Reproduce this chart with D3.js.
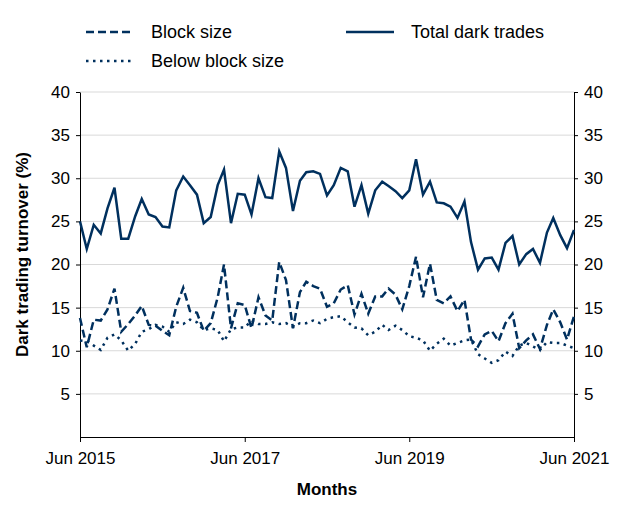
<!DOCTYPE html>
<html><head><meta charset="utf-8">
<script src="https://cdn.jsdelivr.net/npm/d3@7"></script>
<style>body{margin:0;background:#fff}text{font-family:"Liberation Sans",Arial,sans-serif}</style>
</head><body><div id="chart"></div>
<script>
var total = [25,21.8,24.6,23.6,26.5,28.9,23,23,25.6,27.6,25.8,25.5,24.4,24.3,28.6,30.2,29.2,28.1,24.8,25.5,29.2,31,24.8,28.2,28.1,25.8,30,27.8,27.7,33.1,31.2,26.2,29.7,30.7,30.8,30.5,28,29.2,31.2,30.8,26.7,29.2,25.9,28.6,29.6,29.1,28.5,27.7,28.6,32.2,28.1,29.6,27.2,27.1,26.7,25.4,27.3,22.6,19.4,20.7,20.8,19.4,22.5,23.3,20,21.2,21.8,20.2,23.7,25.4,23.4,21.9,24]
var block = [13.8,10.4,13.6,13.5,14.8,17.2,12.2,13.1,14.1,15.2,13,12.9,12.3,11.8,15.1,17.3,14.6,14.4,12.3,13.2,16.2,20,12.6,15.5,15.3,12.6,16.2,14.1,13.5,20.3,18.2,12.6,16.8,18,17.5,17.2,15.1,15.5,17.1,17.6,14.2,16.6,14.3,16.3,16.3,17.2,16.5,14.8,17.5,20.9,16.2,20.1,15.9,15.5,16.3,14.6,15.9,11.3,10.5,11.9,12.3,11.1,13.2,14.3,10.3,11.2,11.9,10.2,13,14.8,13.3,11.3,14]
var below = [11.2,11.1,10.6,10.1,11.5,11.9,11.2,10,10.8,12.2,12.5,13,12.8,12.2,13.3,13.1,13.6,13.3,12.4,12.6,12.4,11.1,12.5,12.7,12.7,13.5,13.1,13.1,13.3,13.1,13.2,12.8,13.2,13.2,13.5,13.2,13.7,13.9,14,13.3,12.7,12.6,11.8,12.2,13,12.4,12.9,12.4,11.7,11.5,11.2,10,10.8,11.4,10.6,10.9,11.2,11.3,9.6,9.1,8.6,8.9,9.9,9.4,10.6,10.9,10.5,10.1,11,10.9,10.9,10.6,10.3]
var yTicks = [5,10,15,20,25,30,35,40]
var xTickLabels = ["Jun 2015","Jun 2017","Jun 2019","Jun 2021"]

var W = 632, H = 513, color = "#00305e"
var m = {left: 80, right: 58, top: 92, bottom: 76}
var svg = d3.select("#chart").append("svg").attr("width", W).attr("height", H)
var months = total.map(function (d, i) { return new Date(2015, 5 + i, 1) })
var x = d3.scaleTime().domain([months[0], months[months.length - 1]]).range([m.left, W - m.right])
var y = d3.scaleLinear().domain([0, 40]).range([H - m.bottom, m.top])

// grid
svg.append("g").selectAll("line").data(yTicks).enter().append("line")
  .attr("x1", m.left).attr("x2", W - m.right)
  .attr("y1", function (d) { return y(d) }).attr("y2", function (d) { return y(d) })
  .attr("stroke", "#d9d9d9").attr("stroke-width", 1)

function styleAxis(g) {
  g.selectAll("text").attr("font-size", 17).attr("fill", "#000")
  g.selectAll("line").attr("stroke", "#000")
  g.select(".domain").attr("stroke", "#000")
}
svg.append("g").attr("transform", "translate(" + m.left + ",0)")
  .call(d3.axisLeft(y).tickValues(yTicks).tickSize(4).tickPadding(6).tickSizeOuter(0)).call(styleAxis)
svg.append("g").attr("transform", "translate(" + (W - m.right) + ",0)")
  .call(d3.axisRight(y).tickValues(yTicks).tickSize(4).tickPadding(6).tickSizeOuter(0)).call(styleAxis)
var xTicks = [0, 24, 48, 72].map(function (i) { return months[i] })
svg.append("g").attr("transform", "translate(0," + (H - m.bottom) + ")")
  .call(d3.axisBottom(x).tickValues(xTicks).tickSize(5).tickPadding(10).tickSizeOuter(0)
    .tickFormat(function (d, i) { return xTickLabels[i] })).call(styleAxis)

var line = d3.line().x(function (d, i) { return x(months[i]) }).y(function (d) { return y(d) })
var series = [
  {name: "Block size", data: block, dash: "8,4"},
  {name: "Below block size", data: below, dash: "2.5,4.5"},
  {name: "Total dark trades", data: total, dash: null}
]
series.forEach(function (s) {
  svg.append("path").datum(s.data).attr("d", line)
    .attr("fill", "none").attr("stroke", color).attr("stroke-width", 2.5)
    .attr("stroke-dasharray", s.dash)
})

// legend
var legPos = [[86, 32], [86, 61], [346, 32]]
series.forEach(function (s, i) {
  var p = legPos[i]
  svg.append("line").attr("x1", p[0]).attr("x2", p[0] + 48).attr("y1", p[1]).attr("y2", p[1])
    .attr("stroke", color).attr("stroke-width", 2.5).attr("stroke-dasharray", s.dash)
  svg.append("text").attr("x", p[0] + 65).attr("y", p[1] + 6).attr("font-size", 18).text(s.name)
})

svg.append("text").attr("x", (m.left + W - m.right) / 2).attr("y", 495).attr("text-anchor", "middle")
  .attr("font-size", 17).attr("font-weight", "bold").text("Months")
svg.append("text").attr("transform", "translate(28," + (y(20) - 10) + ") rotate(-90)")
  .attr("text-anchor", "middle").attr("font-size", 17).attr("font-weight", "bold").text("Dark trading turnover (%)")
</script></body></html>
